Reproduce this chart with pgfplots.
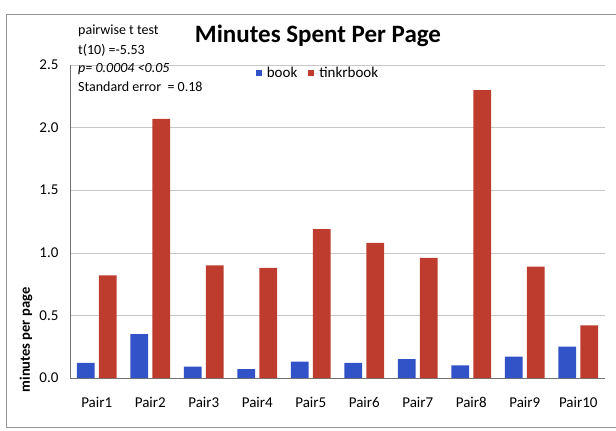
\documentclass[border=0pt]{standalone}
\usepackage{pgfplots}
\pgfplotsset{compat=1.18}
\usepackage{fontspec}
\setmainfont{Carlito}
\definecolor{bookblue}{RGB}{50,82,200}
\definecolor{tinkred}{RGB}{190,60,45}
\definecolor{framegray}{RGB}{150,150,150}
\pgfplotstableread{
x book tinkr
1 0.12 0.82
2 0.35 2.07
3 0.09 0.90
4 0.07 0.88
5 0.13 1.19
6 0.12 1.08
7 0.15 0.96
8 0.10 2.30
9 0.17 0.89
10 0.25 0.42
}\datatable
\begin{document}
\begin{tikzpicture}
\begin{axis}[
  at={(0,0)}, anchor=south west,
  scale only axis,
  width=535bp, height=313bp,
  xmin=0.5, xmax=10.5, ymin=0, ymax=2.5,
  xtick={1,...,10},
  xticklabels={Pair1,Pair2,Pair3,Pair4,Pair5,Pair6,Pair7,Pair8,Pair9,Pair10},
  ytick={0,0.5,1,1.5,2,2.5},
  yticklabel style={/pgf/number format/fixed, /pgf/number format/fixed zerofill, /pgf/number format/precision=1, /pgf/number format/assume math mode=true, xshift=-8bp},
  tick label style={font=\fontsize{15bp}{17bp}\selectfont},
  xticklabel style={yshift=-16bp},
  major tick length=0pt,
  axis x line*=bottom, axis y line*=left,
  axis line style={-, draw=black!55, line width=0.7bp},
  ymajorgrids,
  grid style={draw=black!22, line width=0.6bp},
  ybar, bar width=0.33,
  legend columns=2,
  legend style={at={(0.4636,0.974)}, anchor=center, draw=none, fill=none,
    font=\fontsize{15bp}{17bp}\selectfont,
    /tikz/every even column/.append style={column sep=9bp}},
  legend image code/.code={\fill[#1] (0bp,-3bp) rectangle (6bp,3.5bp); \path (0bp,0bp) -- (9bp,0bp);},
]
\addplot[fill=bookblue, draw=none, bar shift=-0.205] table[x=x, y=book] {\datatable};
\addplot[fill=tinkred, draw=none, bar shift=0.205] table[x=x, y=tinkr] {\datatable};
\legend{book, tinkrbook}
\end{axis}
\begin{scope}[shift={(-70bp,378bp)}, x=1bp, y=-1bp]
  \path[use as bounding box] (0,0) rectangle (616,430);
  \draw[framegray, line width=0.8bp] (616,14) -- (6,14) -- (6,427) -- (616,427);
  \node[font=\fontsize{25bp}{28bp}\selectfont\bfseries, anchor=center] at (318,36) {Minutes Spent Per Page};
  \node[font=\fontsize{14.5bp}{16bp}\selectfont\bfseries, rotate=90, anchor=center] at (26,340) {minutes per page};
  \begin{scope}[every node/.style={anchor=west, inner sep=0pt, font=\fontsize{14bp}{16bp}\selectfont}]
    \node at (78,31) {pairwise t test};
    \node at (78,50) {t(10) =-5.53};
    \node at (78,69) {\itshape p= 0.0004 <0.05};
    \node at (78,87) {Standard error \ = 0.18};
  \end{scope}
\end{scope}
\end{tikzpicture}
\end{document}
